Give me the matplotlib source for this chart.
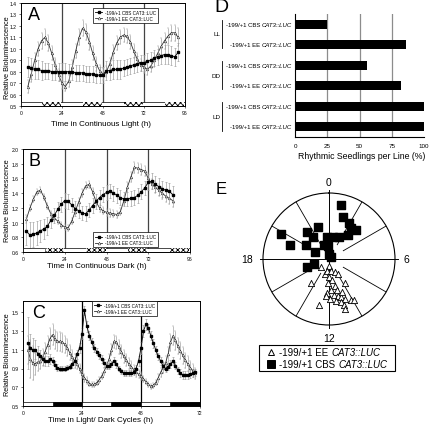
import numpy as np
import matplotlib
matplotlib.use('Agg')
import matplotlib.pyplot as plt
from matplotlib.lines import Line2D
from matplotlib.patches import Rectangle
from matplotlib.offsetbox import TextArea, HPacker, VPacker, AnnotationBbox, DrawingArea

plt.rcParams['font.family'] = ['Liberation Sans', 'DejaVu Sans']
plt.rcParams['hatch.linewidth'] = 0.6

# ---------------- data ----------------
CBS_LABEL = '-199/+1 CBS'
EE_LABEL = '-199/+1 EE'
CONSTRUCT = 'CAT3::LUC'

# Panel A: continuous light
A_t = np.arange(4, 93, 2)
A_cbs = [0.84, 0.83, 0.82, 0.82, 0.81, 0.81, 0.81, 0.80, 0.80, 0.80,
         0.80, 0.80, 0.80, 0.80, 0.79, 0.79, 0.79, 0.78, 0.78, 0.78,
         0.77, 0.77, 0.77, 0.81, 0.81, 0.82, 0.82, 0.82, 0.83, 0.84,
         0.85, 0.86, 0.87, 0.88, 0.88, 0.89, 0.90, 0.92, 0.93, 0.94,
         0.95, 0.95, 0.94, 0.93, 0.97]
A_cbs_err = [0.09, 0.09, 0.08, 0.08, 0.08, 0.07, 0.07, 0.07, 0.07, 0.08,
             0.08, 0.08, 0.07, 0.07, 0.07, 0.07, 0.07, 0.07, 0.07, 0.07,
             0.07, 0.07, 0.07, 0.08, 0.08, 0.08, 0.08, 0.08, 0.07, 0.07,
             0.07, 0.07, 0.07, 0.07, 0.07, 0.07, 0.07, 0.07, 0.07, 0.07,
             0.08, 0.08, 0.08, 0.08, 0.08]
A_ee = [0.67, 0.78, 0.90, 1.00, 1.07, 1.10, 1.05, 0.96, 0.86, 0.77,
        0.70, 0.67, 0.72, 0.84, 0.98, 1.10, 1.18, 1.15, 1.06, 0.96,
        0.87, 0.81, 0.78, 0.80, 0.87, 0.97, 1.05, 1.10, 1.12, 1.11,
        1.06, 0.98, 0.91, 0.86, 0.84, 0.82, 0.85, 0.90, 0.96, 1.02,
        1.07, 1.11, 1.14, 1.14, 1.10]
A_ee_err = [0.06, 0.07, 0.06, 0.06, 0.07, 0.07, 0.07, 0.06, 0.06, 0.05,
            0.05, 0.04, 0.05, 0.06, 0.06, 0.07, 0.07, 0.07, 0.07, 0.06,
            0.06, 0.05, 0.05, 0.05, 0.05, 0.06, 0.06, 0.06, 0.06, 0.06,
            0.06, 0.06, 0.05, 0.05, 0.05, 0.05, 0.05, 0.06, 0.06, 0.07,
            0.07, 0.07, 0.07, 0.07, 0.08]

# Panel B: continuous dark
B_t = np.arange(2, 87, 2)
B_cbs = [0.88, 0.83, 0.84, 0.86, 0.89, 0.91, 0.95, 1.03, 1.10, 1.18,
         1.25, 1.30, 1.29, 1.24, 1.19, 1.16, 1.13, 1.12, 1.17, 1.23,
         1.29, 1.34, 1.38, 1.41, 1.43, 1.40, 1.37, 1.34, 1.32, 1.32,
         1.33, 1.34, 1.37, 1.42, 1.47, 1.55, 1.56, 1.52, 1.49, 1.46,
         1.44, 1.43, 1.38]
B_cbs_err = [0.19, 0.18, 0.17, 0.16, 0.15, 0.14, 0.12, 0.10, 0.10, 0.10,
             0.10, 0.10, 0.10, 0.10, 0.10, 0.10, 0.10, 0.10, 0.10, 0.10,
             0.10, 0.10, 0.10, 0.10, 0.10, 0.10, 0.10, 0.10, 0.10, 0.10,
             0.10, 0.10, 0.10, 0.10, 0.10, 0.11, 0.11, 0.11, 0.11, 0.11,
             0.11, 0.11, 0.12]
B_ee = [1.05, 1.20, 1.32, 1.42, 1.44, 1.35, 1.22, 1.12, 1.06, 1.02,
        0.97, 0.94, 0.93, 1.02, 1.15, 1.28, 1.40, 1.50, 1.52, 1.42,
        1.28, 1.20, 1.16, 1.14, 1.13, 1.12, 1.11, 1.15, 1.30, 1.48,
        1.62, 1.75, 1.74, 1.72, 1.70, 1.60, 1.52, 1.48, 1.44, 1.40,
        1.36, 1.33, 1.30]
B_ee_err = [0.05, 0.04, 0.04, 0.04, 0.04, 0.04, 0.04, 0.04, 0.04, 0.04,
            0.04, 0.04, 0.04, 0.04, 0.04, 0.05, 0.05, 0.05, 0.05, 0.05,
            0.05, 0.05, 0.05, 0.05, 0.05, 0.05, 0.05, 0.05, 0.06, 0.07,
            0.07, 0.07, 0.07, 0.07, 0.07, 0.07, 0.07, 0.08, 0.08, 0.08,
            0.08, 0.08, 0.09]

# Panel C: light/dark cycles
C_t = np.arange(2, 71)
C_cbs = [1.17, 1.12, 1.10, 1.10, 1.06, 1.03, 1.00, 0.98, 0.98, 1.00,
         0.98, 0.94, 0.91, 0.90, 0.90, 0.90, 0.91, 0.92, 0.95, 0.98,
         1.05, 1.12, 1.27, 1.52, 1.35, 1.25, 1.18, 1.12, 1.08, 1.04,
         1.00, 0.96, 0.93, 0.93, 0.95, 0.98, 0.95, 0.90, 0.87, 0.85,
         0.85, 0.85, 0.85, 0.86, 0.90, 0.98, 1.12, 1.30, 1.37, 1.33,
         1.25, 1.17, 1.10, 1.03, 0.98, 0.93, 0.90, 0.92, 0.95, 0.98,
         0.93, 0.88, 0.85, 0.83, 0.83, 0.83, 0.84, 0.85, 0.86]
C_cbs_err = [0.28, 0.15, 0.12, 0.10, 0.08, 0.07, 0.06, 0.05, 0.05, 0.05,
             0.04, 0.04, 0.04, 0.03, 0.03, 0.03, 0.03, 0.03, 0.04, 0.04,
             0.05, 0.05, 0.06, 0.05, 0.06, 0.05, 0.05, 0.04, 0.04, 0.04,
             0.04, 0.04, 0.03, 0.03, 0.03, 0.04, 0.04, 0.03, 0.03, 0.03,
             0.03, 0.03, 0.03, 0.03, 0.04, 0.05, 0.06, 0.06, 0.06, 0.05,
             0.05, 0.05, 0.04, 0.04, 0.04, 0.04, 0.04, 0.04, 0.04, 0.04,
             0.04, 0.04, 0.04, 0.04, 0.04, 0.04, 0.04, 0.04, 0.04]
C_ee = [1.10, 1.00, 0.96, 0.95, 0.97, 0.98, 1.02, 1.08, 1.15, 1.22,
        1.26, 1.21, 1.19, 1.19, 1.18, 1.16, 1.12, 1.07, 1.02, 0.98,
        0.95, 0.90, 0.84, 0.80, 0.77, 0.74, 0.73, 0.73, 0.75, 0.78,
        0.82, 0.87, 0.93, 1.00, 1.10, 1.19, 1.18, 1.13, 1.08, 1.03,
        0.99, 0.95, 0.92, 0.89, 0.86, 0.84, 0.82, 0.79, 0.76, 0.73,
        0.71, 0.72, 0.75, 0.80, 0.86, 0.91, 0.96, 1.05, 1.18, 1.25,
        1.20, 1.14, 1.09, 1.04, 0.99, 0.95, 0.91, 0.88, 0.85]
C_ee_err = [0.15, 0.20, 0.18, 0.12, 0.10, 0.09, 0.09, 0.09, 0.10, 0.11,
            0.11, 0.10, 0.10, 0.10, 0.10, 0.09, 0.09, 0.08, 0.08, 0.07,
            0.06, 0.05, 0.04, 0.04, 0.04, 0.03, 0.03, 0.03, 0.03, 0.03,
            0.03, 0.04, 0.04, 0.05, 0.06, 0.07, 0.07, 0.07, 0.07, 0.07,
            0.06, 0.06, 0.06, 0.05, 0.05, 0.04, 0.04, 0.03, 0.03, 0.03,
            0.03, 0.03, 0.03, 0.04, 0.05, 0.06, 0.07, 0.08, 0.09, 0.10,
            0.10, 0.09, 0.09, 0.09, 0.08, 0.08, 0.07, 0.07, 0.06]

# Panel D: rhythmic seedlings (%)
D_groups = ['LL', 'DD', 'LD']
D_lines = ['-199/+1 CBS', '-199/+1 EE', '-199/+1 CBS', '-199/+1 EE', '-199/+1 CBS', '-199/+1 EE']
D_values = [25, 86, 56, 82, 100, 100]
D_xticks = [0, 25, 50, 75, 100]

# Panel E: phase (h) and relative amplitude radius
E_cbs_phase = [0.81, 1.25, 1.93, 2.33, 2.86, 2.6, 1.56, 0.68, 23.7, 22.7, 21.4,
               21.6, 19.8, 19.3, 20.06, 19.7, 22.6, 23.7, 23.8, 3.6, 16.8, 16.6]
E_cbs_r = [0.84, 0.68, 0.62, 0.57, 0.59, 0.46, 0.37, 0.34, 0.34, 0.51, 0.53,
           0.41, 0.82, 0.62, 0.41, 0.23, 0.22, 0.20, 0.08, 0.04, 0.24, 0.35]
E_ee_phase = [12.2, 14.8, 13.1, 12.5, 11.5, 10.5, 9.9, 12.07, 11.5, 12.16,
              9.7, 14.5, 11.1, 11.7, 12.2, 11.47, 11.08, 10.8, 10.5, 10.14,
              9.87, 11.4, 11.0, 10.8, 12.8, 10.8, 12.3, 11.9, 11.1, 10.6]
E_ee_r = [0.10, 0.17, 0.23, 0.19, 0.19, 0.22, 0.26, 0.27, 0.32, 0.37,
          0.44, 0.45, 0.42, 0.47, 0.52, 0.55, 0.57, 0.61, 0.65, 0.70,
          0.73, 0.64, 0.68, 0.73, 0.72, 0.80, 0.56, 0.61, 0.49, 0.54]
E_hour_labels = ['0', '6', '12', '18']

# ---------------- figure ----------------
W, H = 432, 427
fig = plt.figure(figsize=(W / 100, H / 100), dpi=100)


def box(l, t, r, b, **kw):
    return fig.add_axes([l / W, 1 - b / H, (r - l) / W, (b - t) / H], **kw)


def ftext(x, y, s, **kw):
    fig.text(x / W, 1 - y / H, s, **kw)


def ts_panel(bx, t, cbs, cbs_err, ee, ee_err, xlim, ylim, yticks, xticks,
             vlines, vcolor, strip_h, spans, dark_style, leg_anchor):
    ax = box(*bx)
    ax.set_xlim(xlim)
    ax.set_ylim(ylim)
    for v in vlines:
        ax.axvline(v, color=vcolor, lw=0.9, zorder=1)
    ax.errorbar(t, ee, yerr=ee_err, fmt='-^', color='#333333', lw=0.6, ms=1.9,
                mfc='white', mec='#222222', mew=0.35, ecolor='#9a9a9a',
                elinewidth=0.45, capsize=0.9, capthick=0.45, zorder=3)
    ax.errorbar(t, cbs, yerr=cbs_err, fmt='-s', color='k', lw=0.6, ms=1.6,
                mfc='k', mec='k', ecolor='#9a9a9a', elinewidth=0.45,
                capsize=0.9, capthick=0.45, zorder=4)
    ax.add_patch(Rectangle((xlim[0], ylim[0]), xlim[1] - xlim[0], strip_h,
                           facecolor='white', edgecolor='k', lw=0.5, zorder=5))
    for a, b in spans:
        if dark_style == 'hatch':
            ax.add_patch(Rectangle((a, ylim[0]), b - a, strip_h, facecolor='white',
                                   edgecolor='k', hatch='xxxxxx', lw=0, zorder=6))
        else:
            ax.add_patch(Rectangle((a, ylim[0]), b - a, strip_h, facecolor='k',
                                   edgecolor='k', lw=0.5, zorder=6))
    ax.set_yticks(yticks)
    ax.set_yticklabels(['%.1f' % v for v in yticks])
    ax.set_xticks(xticks)
    ax.set_xticklabels([str(v) for v in xticks])
    ax.tick_params(labelsize=3.6, length=1.5, width=0.4, pad=1.5)
    for s in ax.spines.values():
        s.set_linewidth(0.7)
    handles = [Line2D([], [], marker='s', color='k', ms=1.8, lw=0.6),
               Line2D([], [], marker='^', color='#333333', mfc='white', ms=2.0, lw=0.6, mew=0.35)]
    leg = ax.legend(handles, [CBS_LABEL + ' ' + CONSTRUCT, EE_LABEL + ' ' + CONSTRUCT],
                    loc='upper left', bbox_to_anchor=leg_anchor, fontsize=3.3,
                    frameon=True, fancybox=False, edgecolor='k', framealpha=1,
                    borderpad=0.4, labelspacing=0.25, handlelength=1.6,
                    handletextpad=0.6, borderaxespad=0)
    leg.get_frame().set_linewidth(0.5)
    leg.set_zorder(10)
    return ax


# Panel A
ts_panel((21, 4, 185, 107), A_t, A_cbs, A_cbs_err, A_ee, A_ee_err, (0, 96), (0.5, 1.4),
         [0.5, 0.6, 0.7, 0.8, 0.9, 1.0, 1.1, 1.2, 1.3, 1.4], [0, 24, 48, 72, 96],
         [24, 48, 72], '#444444', 0.035, [(12.5, 23.5), (36.5, 47.5), (60.5, 71.5), (84.5, 95.5)],
         'hatch', (0.44, 0.951))
# Panel B
ts_panel((23, 150, 190, 253), B_t, B_cbs, B_cbs_err, B_ee, B_ee_err, (0, 96), (0.6, 2.0),
         [0.6, 0.8, 1.0, 1.2, 1.4, 1.6, 1.8, 2.0], [0, 24, 48, 72, 96],
         [24, 48, 72], '#444444', 0.055, [(12.5, 23.5), (36.5, 47.5), (60.5, 71.5), (84.5, 95.5)],
         'hatch', (0.42, 0.19))
# Panel C
ts_panel((23, 302, 200, 407), C_t, C_cbs, C_cbs_err, C_ee, C_ee_err, (0, 72), (0.5, 1.62),
         [0.5, 0.7, 0.9, 1.1, 1.3, 1.5], [0, 24, 48, 72],
         [24, 48], 'k', 0.045, [(12, 24), (36, 48), (60, 72)], 'solid', (0.39, 1.0))

# Axis titles for A-C
ftext(7.5, 58, 'Relative Bioluminescence', rotation=90, fontsize=5.2, ha='center', va='center')
ftext(101, 125, 'Time in Continuous Light (h)', fontsize=5.8, ha='center', va='center')
ftext(7.5, 201, 'Relative Bioluminescence', rotation=90, fontsize=5.2, ha='center', va='center')
ftext(97, 266, 'Time in Continuous Dark (h)', fontsize=5.8, ha='center', va='center')
ftext(7.5, 355, 'Relative Bioluminescence', rotation=90, fontsize=5.2, ha='center', va='center')
ftext(101, 421, 'Time in Light/ Dark Cycles (h)', fontsize=5.8, ha='center', va='center')

ftext(34, 15, 'A', fontsize=13, ha='center', va='center')
ftext(35, 162, 'B', fontsize=13, ha='center', va='center')
ftext(39, 313, 'C', fontsize=13, ha='center', va='center')
ftext(221, 8, 'D', fontsize=14, ha='center', va='center')
ftext(221, 190, 'E', fontsize=12, ha='center', va='center')

# Panel D
axD = box(295, 15, 424, 138)
pos = np.arange(len(D_values))
for v in [25, 50, 75]:
    axD.axvline(v, color='#8c8c8c', lw=0.9, zorder=1)
axD.barh(pos, D_values, height=0.45, color='k', zorder=2)
axD.set_ylim(len(D_values) - 0.5, -0.5)
axD.set_xlim(0, 100)
axD.set_yticks(pos)
axD.set_yticklabels([])
axD.tick_params(axis='y', length=0)
axD.set_xticks(D_xticks)
axD.set_xticklabels([str(v) for v in D_xticks])
axD.tick_params(axis='x', length=0, pad=4.0, labelsize=4.5)
axD.spines['top'].set_visible(False)
axD.spines['right'].set_visible(False)
axD.spines['left'].set_linewidth(0.8)
axD.spines['bottom'].set_linewidth(0.8)
for i, line in enumerate(D_lines):
    pk = HPacker(children=[TextArea(line, textprops=dict(fontsize=4.3)),
                           TextArea(CONSTRUCT, textprops=dict(fontsize=4.3, fontstyle='italic'))],
                 align='baseline', pad=0, sep=1.2)
    ab = AnnotationBbox(pk, (0, i), xycoords=('axes fraction', 'data'), xybox=(-2.2, 0),
                        boxcoords='offset points', box_alignment=(1, 0.5), frameon=False,
                        pad=0, annotation_clip=False)
    axD.add_artist(ab)
for g, (top, bot) in zip(D_groups, [(21, 49), (62, 90), (103, 132)]):
    fig.add_artist(Line2D([222 / W, 222 / W], [1 - top / H, 1 - bot / H], color='k', lw=0.6))
    ftext(220.5, (top + bot) / 2, g, fontsize=4.5, ha='right', va='center')
ftext(362, 157, 'Rhythmic Seedlings per Line (%)', fontsize=6.3, ha='center', va='center')

# Panel E
axE = box(263, 194, 395, 326, projection='polar')
axE.set_theta_zero_location('N')
axE.set_theta_direction(-1)
axE.set_ylim(0, 1)
axE.grid(False)
axE.set_xticks([])
axE.set_yticks([])
axE.spines['polar'].set_linewidth(0.8)
for h in range(0, 24, 2):
    th = h / 24 * 2 * np.pi
    if h % 6 == 0:
        axE.plot([th, th], [0, 1.04], color='k', lw=0.7, clip_on=False, zorder=1)
    else:
        axE.plot([th, th], [0.25, 1.0], color='k', lw=0.6, zorder=1)
for lab, rr in zip(E_hour_labels, [1.16, 1.17, 1.19, 1.24]):
    th = int(lab) / 24 * 2 * np.pi
    axE.text(th, rr, lab, fontsize=7.5, ha='center', va='center')
axE.scatter(np.array(E_ee_phase) / 24 * 2 * np.pi, E_ee_r, marker='^', s=20,
            facecolors='white', edgecolors='k', linewidths=0.6, zorder=3, clip_on=False)
axE.scatter(np.array(E_cbs_phase) / 24 * 2 * np.pi, E_cbs_r, marker='s', s=26,
            c='k', zorder=4, clip_on=False)


def marker_area(marker, mfc, ms):
    da = DrawingArea(11, 7, 0, 0)
    da.add_artist(Line2D([7.5], [3.5], marker=marker, ms=ms, mfc=mfc, mec='k',
                         mew=0.7, ls=''))
    return da


rows = []
for mk, mfc, ms, lab in [('^', 'white', 5, EE_LABEL), ('s', 'k', 5.5, CBS_LABEL)]:
    rows.append(HPacker(children=[marker_area(mk, mfc, ms),
                                  TextArea(lab, textprops=dict(fontsize=7)),
                                  TextArea(CONSTRUCT, textprops=dict(fontsize=7, fontstyle='italic')),
                                  DrawingArea(2, 2, 0, 0)],
                        align='center', pad=0, sep=2.2))
vp = VPacker(children=rows, align='left', pad=0, sep=1)
abE = AnnotationBbox(vp, (327 / W, 1 - 359 / H), xycoords='figure fraction',
                     box_alignment=(0.5, 0.5), frameon=True, pad=0.15,
                     bboxprops=dict(edgecolor='k', linewidth=0.8))
fig.add_artist(abE)

fig.savefig('out.png', dpi=100)
